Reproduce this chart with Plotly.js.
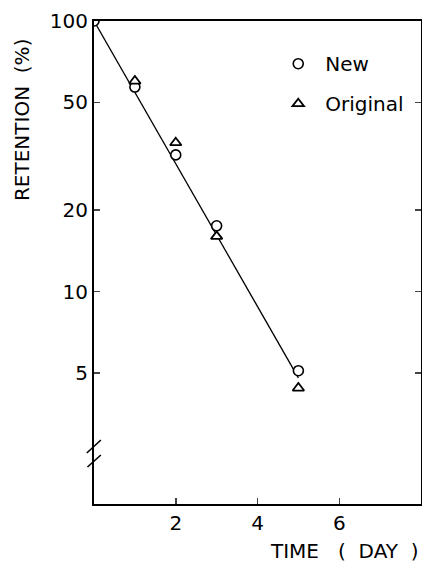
<!DOCTYPE html>
<html><head><meta charset="utf-8">
<script src="https://cdn.plot.ly/plotly-3.0.1.min.js"></script>
<style>html,body{margin:0;padding:0;background:#fff}</style>
</head><body><div id="chart" style="width:422px;height:563px"></div>
<script>
// Data
const newDays = [0, 1, 2, 3, 5];
const newRetention = [100, 57, 32, 17.5, 5.1];
const origDays = [1, 2, 3, 5];
const origRetention = [60, 35.5, 16, 4.4];
const fitDays = [0, 5];
const fitRetention = [100, 4.8];
const xTicks = [2, 4, 6];
const yTicks = [5, 10, 20, 50, 100];
const yTickText = ['5', '10', '20', '50', '100'];

const FONT = 'DejaVu Sans, sans-serif';
const traces = [
  {x: fitDays, y: fitRetention, mode: 'lines', line: {color: '#000', width: 1.3}, showlegend: false, hoverinfo: 'skip'},
  {x: newDays, y: newRetention, mode: 'markers', name: 'New', legendgroup: 'a',
   marker: {symbol: 'circle', size: 10, color: '#fff', line: {color: '#000', width: 1.6}}},
  {x: origDays, y: origRetention, mode: 'markers', name: 'Original', legendgroup: 'b',
   marker: {symbol: 'triangle-up', size: 10, color: '#fff', line: {color: '#000', width: 1.8}}}
];
const layout = {
  width: 422, height: 563,
  margin: {l: 94, r: 1, t: 21, b: 59},
  paper_bgcolor: '#fff', plot_bgcolor: '#fff',
  font: {family: FONT, color: '#000', size: 19},
  showlegend: true,
  legend: {x: 0.542, y: 0.952, xanchor: 'left', yanchor: 'top', bgcolor: 'rgba(0,0,0,0)',
           font: {family: FONT, size: 20, color: '#000'}, tracegroupgap: 11, itemwidth: 44},
  xaxis: {range: [0, 8], tickvals: xTicks, ticks: 'inside', ticklen: 6, tickwidth: 1.5,
          showline: true, linewidth: 2, linecolor: '#000', mirror: true, showgrid: false, zeroline: false,
          tickfont: {family: FONT, size: 20}},
  yaxis: {type: 'log', range: [0.215, 2.0], tickvals: yTicks, ticktext: yTickText,
          ticks: 'inside', ticklen: 6, tickwidth: 1.5, showline: true, linewidth: 2, linecolor: '#000',
          mirror: 'ticks', showgrid: false, zeroline: false, ticklabelstandoff: 0,
          tickfont: {family: FONT, size: 20}},
  annotations: [
    {text: 'RETENTION  (%)', xref: 'paper', yref: 'paper', x: -0.22, xanchor: 'center',
     y: 1 - (120 - 21) / 483, yanchor: 'middle', textangle: -90, showarrow: false,
     font: {family: FONT, size: 20}},
    {text: 'TIME   (  DAY  )', xref: 'paper', yref: 'paper', x: 1, xanchor: 'right',
     y: 0, yanchor: 'top', yshift: -33, showarrow: false, font: {family: FONT, size: 20}}
  ],
  shapes: [
    {type: 'line', xref: 'paper', yref: 'paper', x0: -0.022, x1: 0.021, y0: (504-453)/483, y1: (504-440)/483, line: {color: '#000', width: 1.6}},
    {type: 'line', xref: 'paper', yref: 'paper', x0: -0.020, x1: 0.021, y0: (504-467)/483, y1: (504-455)/483, line: {color: '#000', width: 1.6}}
  ]
};
Plotly.newPlot('chart', traces, layout, {displayModeBar: false, staticPlot: true});
</script></body></html>
